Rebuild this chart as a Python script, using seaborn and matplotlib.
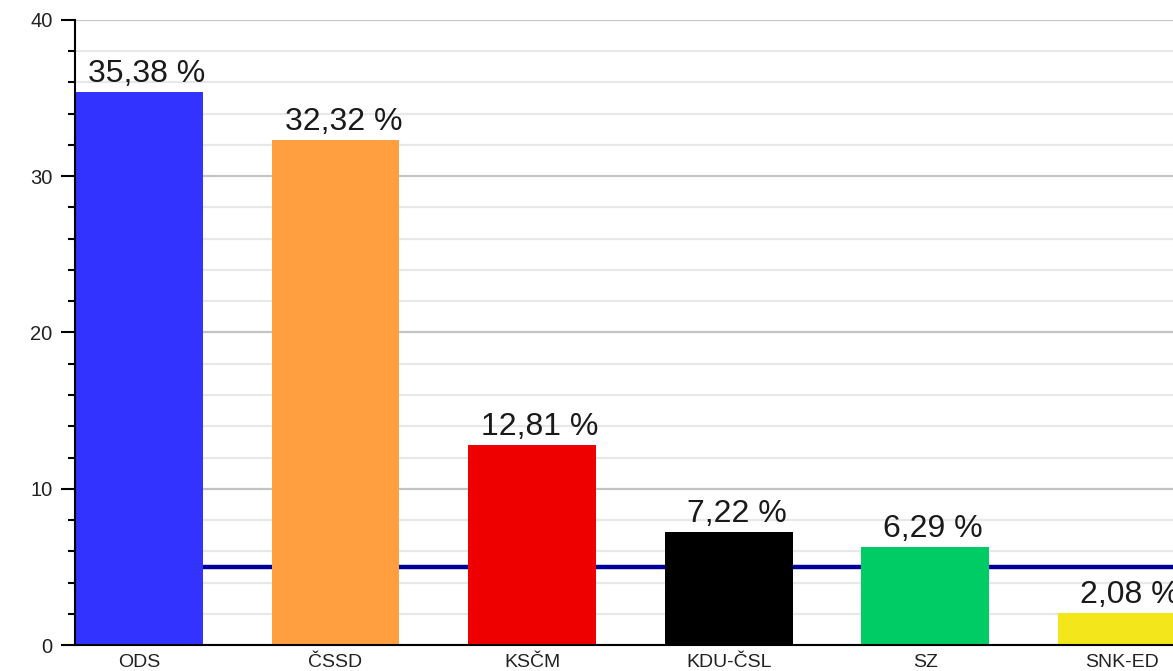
import matplotlib
matplotlib.use("Agg")
import matplotlib.pyplot as plt
import seaborn as sns
import pandas as pd
from matplotlib.ticker import MultipleLocator

parties = ["ODS", "ČSSD", "KSČM", "KDU-ČSL", "SZ", "SNK-ED"]
tick_labels = ["ODS", "ČSSD", "KSČM", "KDU-ČSL", "SZ", "SNK-ED"]
votes = [35.38, 32.32, 12.81, 7.22, 6.29, 2.08]
colors = ["#3333ff", "#ff9f3f", "#ee0000", "#000000", "#00cc66", "#f3e61b"]
threshold = 5

sns.set_theme(style="white")
plt.rcParams["font.family"] = ["Liberation Sans", "DejaVu Sans"]

df = pd.DataFrame({"party": parties, "votes": votes})

fig = plt.figure(figsize=(11.73, 6.71), dpi=100)
ax = fig.add_axes([0.0639, 0.0387, 0.9361, 0.9316])

sns.barplot(data=df, x="party", y="votes", hue="party", palette=colors,
            order=parties, hue_order=parties, legend=False, width=0.65,
            saturation=1, ax=ax, zorder=2, edgecolor="none")

ax.axhline(threshold, color="#000099", lw=3.2, zorder=1)

ax.set_ylim(0, 40)
ax.set_xlim(-0.325, 5.26)
ax.yaxis.set_major_locator(MultipleLocator(10))
ax.yaxis.set_minor_locator(MultipleLocator(2))
ax.grid(which="major", axis="y", color="#c4c4c4", lw=1.6, zorder=0)
ax.grid(which="minor", axis="y", color="#e8e8e8", lw=1.6, zorder=0)
ax.set_axisbelow(True)

for s in ["top", "right"]:
    ax.spines[s].set_visible(False)
for s in ["left", "bottom"]:
    ax.spines[s].set_visible(True)
    ax.spines[s].set_color("black")
    ax.spines[s].set_linewidth(1.5)

ax.tick_params(axis="y", which="major", left=True, length=10, width=1.5,
               color="black", labelsize=14.5, pad=6, labelcolor="#222222")
ax.tick_params(axis="y", which="minor", left=True, length=5, width=1.5,
               color="black")
ax.tick_params(axis="x", bottom=False, labelsize=14, pad=0.5,
               labelcolor="#222222")
ax.set_xticks(range(len(parties)))
ax.set_xticklabels(tick_labels)
ax.set_xlabel("")
ax.set_ylabel("")

labels = [f"{v:.2f}".replace(".", ",") + " %" for v in votes]
for cont, lab in zip(ax.containers, labels):
    for p in cont.patches:
        ax.annotate(lab, xy=(p.get_x() + p.get_width() / 2, p.get_height()),
                    xytext=(8, 10), textcoords="offset pixels",
                    ha="center", va="baseline", fontsize=23,
                    color="#1a1a1a", annotation_clip=False)

fig.savefig("out.png", dpi=100)
